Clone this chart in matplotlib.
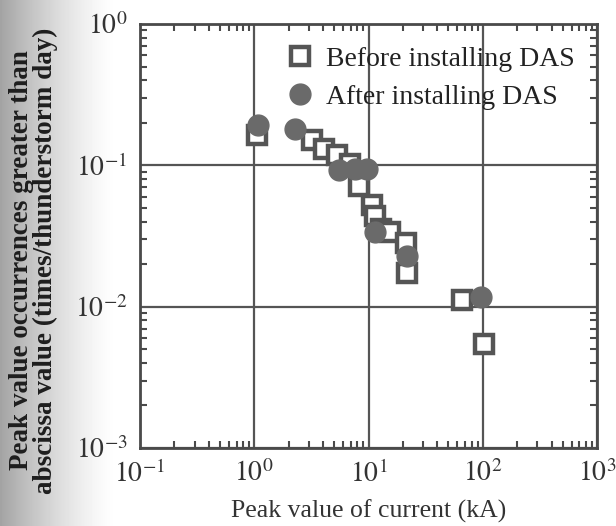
import numpy as np
import matplotlib.pyplot as plt
from matplotlib.ticker import LogLocator, NullFormatter

plt.rcParams['font.family'] = ['Liberation Serif', 'DejaVu Serif']
plt.rcParams['mathtext.fontset'] = 'stix'

# before installing DAS (open squares)
before_x = [1.06, 3.19, 4.08, 5.32, 6.93, 8.32, 10.8, 11.5, 12.8, 15.3, 21.2, 21.9, 65.2, 102]
before_y = [0.163, 0.152, 0.131, 0.118, 0.102, 0.0715, 0.052, 0.0439, 0.0353, 0.034,
            0.0284, 0.0174, 0.0112, 0.0054]

# after installing DAS (filled circles)
after_x = [1.08, 2.26, 5.54, 7.67, 9.8, 11.5, 21.7, 96]
after_y = [0.193, 0.18, 0.092, 0.0935, 0.0935, 0.0336, 0.0228, 0.0118]

x_ticks = [0.1, 1, 10, 100, 1000]
x_labels = ['$10^{-1}$', '$10^{0}$', '$10^{1}$', '$10^{2}$', '$10^{3}$']
y_ticks = [0.001, 0.01, 0.1, 1]
y_labels = ['$10^{-3}$', '$10^{-2}$', '$10^{-1}$', '$10^{0}$']

W, H = 616, 526
fig = plt.figure(figsize=(W / 100, H / 100), dpi=100)

# scanned page shading on the left edge
bg = fig.add_axes([0, 0, 1, 1], zorder=-10)
cols = np.linspace(0, 1, W)
shade = np.clip(1 - cols / 0.19, 0, 1)
img = 1 - 0.36 * shade[None, :] ** 1.4
bg.imshow(np.repeat(img, 10, axis=0), cmap='gray', vmin=0, vmax=1, aspect='auto',
          extent=[0, 1, 0, 1])
bg.axis('off')

ax = fig.add_axes([140 / W, 1 - 448 / H, (597 - 140) / W, (448 - 24) / H])
ax.set_xscale('log')
ax.set_yscale('log')
ax.set_xlim(0.1, 1000)
ax.set_ylim(0.001, 1)

ink = '#4a4a4a'
ax.plot(before_x, before_y, 's', ms=13, mfc='white', mec='#555555', mew=3.2,
        label='Before installing DAS', zorder=3)
ax.plot(after_x, after_y, 'o', ms=15, mfc='#6a6a6a', mec='#6a6a6a',
        label='After installing DAS', zorder=4)

ax.set_xticks(x_ticks, x_labels)
ax.set_yticks(y_ticks, y_labels)
ax.xaxis.set_minor_locator(LogLocator(base=10, subs=np.arange(2, 10), numticks=20))
ax.yaxis.set_minor_locator(LogLocator(base=10, subs=np.arange(2, 10), numticks=20))
ax.xaxis.set_minor_formatter(NullFormatter())
ax.yaxis.set_minor_formatter(NullFormatter())
ax.tick_params(which='both', direction='in', top=True, right=True, color=ink)
ax.tick_params(which='major', length=0, labelsize=20, labelcolor='#333333', pad=9)
ax.tick_params(which='minor', length=5, width=1.5)
ax.grid(True, which='major', color='#555555', lw=1.6)
for s in ax.spines.values():
    s.set_color(ink)
    s.set_linewidth(2)

ax.set_xlabel('Peak value of current (kA)', fontsize=18.5, color='#333333', labelpad=8)
fig.text(0.055, 0.505, 'Peak value occurrences greater than\nabscissa value (times/thunderstorm day)',
         rotation=90, ha='center', va='center', fontsize=19.5, fontweight='bold',
         color='#1e1e1e', linespacing=0.95)

leg = ax.legend(loc='upper right', frameon=False, fontsize=20, handletextpad=0.45,
                borderaxespad=0.5, labelspacing=0.45, markerscale=1.0, handlelength=1.0,
                borderpad=0.3, labelcolor='#222222')

fig.savefig('out.png', dpi=100)
